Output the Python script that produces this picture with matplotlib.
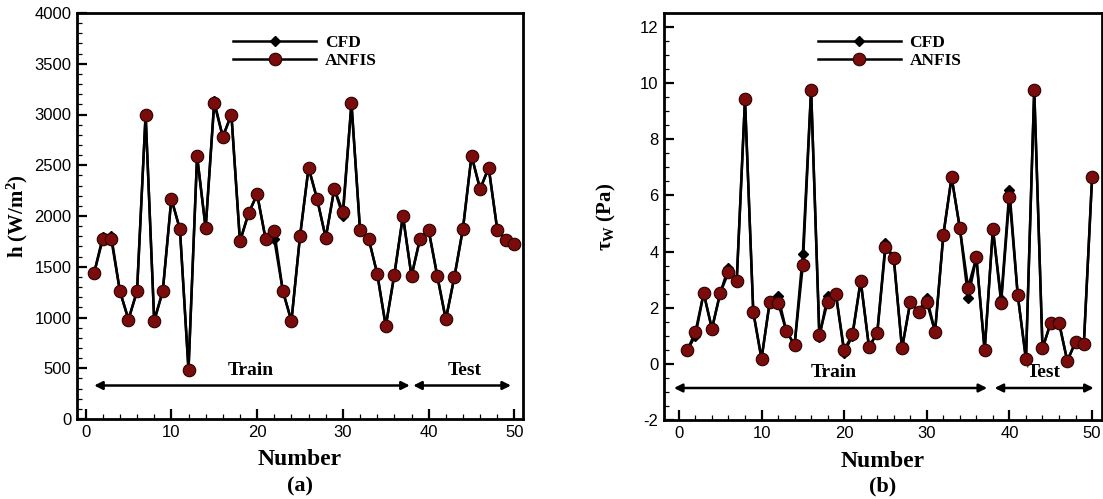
import matplotlib
matplotlib.use("Agg")
import matplotlib.pyplot as plt
from matplotlib.ticker import MultipleLocator

plt.rcParams['mathtext.fontset'] = 'custom'
plt.rcParams['mathtext.rm'] = 'Liberation Serif:bold'
plt.rcParams['mathtext.it'] = 'Liberation Serif:bold'
plt.rcParams['mathtext.bf'] = 'Liberation Serif:bold'
plt.rcParams['axes.unicode_minus'] = False

number = list(range(1, 51))

h_cfd = [1440, 1790, 1800, 1260, 980, 1260, 3000, 970, 1260, 2170,
         1870, 490, 2590, 1880, 3130, 2780, 3000, 1750, 2025, 2215,
         1770, 1770, 1260, 965, 1800, 2476, 2166, 1784, 2268, 2000,
         3111, 1860, 1778, 1432, 915, 1422, 2001, 1409, 1778, 1860,
         1412, 981, 1399, 1876, 2594, 2265, 2476, 1866, 1768, 1728]
h_anfis = [1440, 1770, 1770, 1260, 980, 1260, 3000, 965, 1260, 2170,
           1870, 480, 2590, 1880, 3110, 2780, 3000, 1750, 2025, 2215,
           1770, 1850, 1260, 965, 1800, 2476, 2166, 1784, 2268, 2040,
           3111, 1860, 1778, 1432, 915, 1422, 2001, 1409, 1778, 1860,
           1412, 981, 1399, 1876, 2594, 2265, 2476, 1866, 1768, 1728]

tau_cfd = [0.48, 1.0, 2.52, 1.25, 2.52, 3.43, 2.96, 9.42, 1.85, 0.18,
           2.22, 2.42, 1.17, 0.67, 3.91, 9.77, 0.95, 2.42, 2.48, 0.40,
           1.0, 2.96, 0.61, 1.09, 4.29, 3.77, 0.55, 2.2, 1.86, 2.36,
           1.14, 4.59, 6.65, 4.83, 2.36, 3.79, 0.48, 4.81, 2.3, 6.2,
           2.46, 0.16, 9.77, 0.55, 1.47, 1.47, 0.10, 0.79, 0.69, 6.65]
tau_anfis = [0.48, 1.13, 2.52, 1.25, 2.52, 3.26, 2.96, 9.42, 1.85, 0.18,
             2.22, 2.18, 1.17, 0.67, 3.52, 9.77, 1.03, 2.21, 2.48, 0.49,
             1.05, 2.96, 0.61, 1.09, 4.15, 3.77, 0.55, 2.2, 1.86, 2.2,
             1.14, 4.59, 6.65, 4.83, 2.72, 3.79, 0.48, 4.81, 2.18, 5.96,
             2.46, 0.16, 9.77, 0.55, 1.47, 1.47, 0.10, 0.79, 0.69, 6.65]

series_labels = ["CFD", "ANFIS"]
region_labels = ["Train", "Test"]

SERIF = 'Liberation Serif'
SANS = 'Liberation Sans'
RED = '#7a0c0c'

fig = plt.figure(figsize=(11.03, 4.99), dpi=100)
W, H = 1103, 499

def make_axes(l, r, t, b):
    return fig.add_axes([l / W, 1 - b / H, (r - l) / W, (b - t) / H])

ax1 = make_axes(77, 523, 13, 419)
ax2 = make_axes(664, 1102, 13, 420)

def style(ax, xlim, ylim, ymaj, ymin):
    ax.set_xlim(*xlim)
    ax.set_ylim(*ylim)
    ax.xaxis.set_major_locator(MultipleLocator(10))
    ax.xaxis.set_minor_locator(MultipleLocator(2))
    ax.yaxis.set_major_locator(MultipleLocator(ymaj))
    ax.yaxis.set_minor_locator(MultipleLocator(ymin))
    ax.tick_params(which='major', direction='in', length=7, width=1.6,
                   labelsize=12, pad=4)
    ax.tick_params(which='minor', direction='in', length=3.5, width=0.9)
    for lab in ax.get_xticklabels() + ax.get_yticklabels():
        lab.set_fontfamily(SANS)
    for s in ax.spines.values():
        s.set_linewidth(2)

def draw(ax, cfd, anfis):
    ax.plot(number, cfd, color='black', lw=1.8, marker='D', ms=5,
            mfc='black', mec='black', label=series_labels[0], zorder=3)
    ax.plot(number, anfis, color='black', lw=1.8, marker='o', ms=9,
            mfc=RED, mec='#2a0000', mew=0.8, label=series_labels[1], zorder=4)

draw(ax1, h_cfd, h_anfis)
draw(ax2, tau_cfd, tau_anfis)
style(ax1, (-1, 51), (0, 4000), 500, 100)
style(ax2, (-1.8, 51.2), (-2, 12.5), 2, 0.5)

arrow_kw = dict(arrowstyle='<|-|>', color='black', lw=1.8,
                mutation_scale=12, shrinkA=0, shrinkB=0)

# Left panel annotations
ax1.annotate('', xy=(1.0, 330), xytext=(37.8, 330), arrowprops=arrow_kw)
ax1.annotate('', xy=(38.2, 330), xytext=(49.6, 330), arrowprops=arrow_kw)
ax1.text(19.2, 480, region_labels[0], fontfamily=SERIF, fontweight='bold',
         fontsize=14, ha='center', va='center')
ax1.text(44.2, 477, region_labels[1], fontfamily=SERIF, fontweight='bold',
         fontsize=14, ha='center', va='center')

# Right panel annotations
ax2.annotate('', xy=(-0.6, -0.86), xytext=(37.3, -0.86), arrowprops=arrow_kw)
ax2.annotate('', xy=(38.2, -0.86), xytext=(50.2, -0.86), arrowprops=arrow_kw)
ax2.text(18.8, -0.29, region_labels[0], fontfamily=SERIF, fontweight='bold',
         fontsize=14, ha='center', va='center')
ax2.text(44.1, -0.29, region_labels[1], fontfamily=SERIF, fontweight='bold',
         fontsize=14, ha='center', va='center')

for ax in (ax1, ax2):
    ax.legend(loc='upper left', bbox_to_anchor=(0.315, 0.985), frameon=False,
              prop={'family': SERIF, 'weight': 'bold', 'size': 12.5},
              handlelength=4.8, handletextpad=0.5, labelspacing=0.1)

ax1.set_ylabel('h (W/m$^2$)', fontfamily=SERIF, fontweight='bold', fontsize=15)
ax1.yaxis.set_label_coords(-0.105, 0.5)
ax2.set_ylabel(r'$\tau_W$ (Pa)', fontfamily=SERIF, fontweight='bold', fontsize=15)
ax2.yaxis.set_label_coords(-0.105, 0.5)

for ax in (ax1, ax2):
    ax.set_xlabel('Number', fontfamily=SERIF, fontweight='bold', fontsize=17)
    ax.xaxis.set_label_coords(0.5, -0.075)

fig.text(300 / W, 1 - 486 / H, '(a)', fontfamily=SERIF, fontweight='bold',
         fontsize=16, ha='center', va='center')
fig.text(883 / W, 1 - 486 / H, '(b)', fontfamily=SERIF, fontweight='bold',
         fontsize=16, ha='center', va='center')

fig.savefig('out.png', dpi=100)
